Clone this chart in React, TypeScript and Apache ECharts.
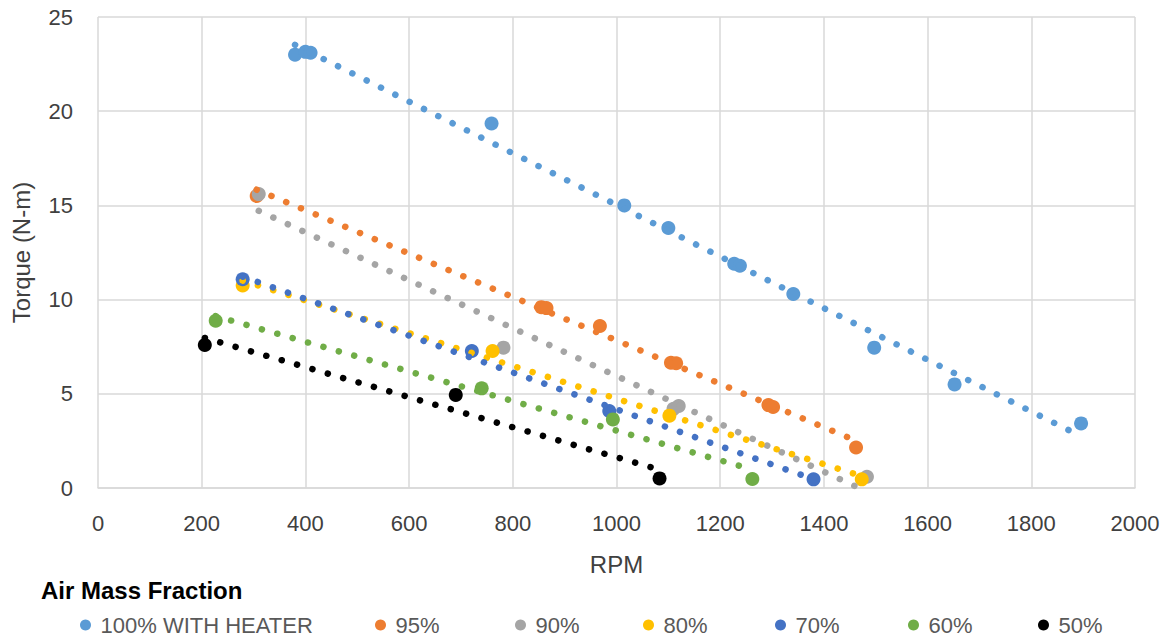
import React, { useEffect, useRef } from "react";
import * as echarts from "echarts";

const seriesNames = ["100% WITH HEATER", "95%", "90%", "80%", "70%", "60%", "50%"];
const seriesColors = ["#5B9BD5", "#ED7D31", "#A5A5A5", "#FFC000", "#4472C4", "#70AD47", "#000000"];

const rpm100 = [380, 400, 410, 759, 1015, 1100, 1227, 1238, 1341, 1497, 1652, 1896];
const tq100 = [23.0, 23.15, 23.1, 19.35, 15.0, 13.8, 11.9, 11.8, 10.3, 7.45, 5.5, 3.43];

const rpm95 = [306, 855, 865, 968, 1105, 1115, 1293, 1302, 1462];
const tq95 = [15.5, 9.6, 9.55, 8.6, 6.65, 6.62, 4.4, 4.3, 2.15];

const rpm90 = [310, 782, 1110, 1120, 1483];
const tq90 = [15.6, 7.45, 4.2, 4.35, 0.6];

const rpm80 = [279, 761, 1102, 1473];
const tq80 = [10.75, 7.27, 3.84, 0.46];

const rpm70 = [279, 721, 986, 1380];
const tq70 = [11.08, 7.27, 4.09, 0.46];

const rpm60 = [227, 740, 993, 1262];
const tq60 = [8.88, 5.29, 3.64, 0.48];

const rpm50 = [206, 690, 1083];
const tq50 = [7.59, 4.94, 0.51];

const xTitle = "RPM";
const yTitle = "Torque (N-m)";
const legendTitle = "Air Mass Fraction";

const allRpm = [rpm100, rpm95, rpm90, rpm80, rpm70, rpm60, rpm50];
const allTq = [tq100, tq95, tq90, tq80, tq70, tq60, tq50];

// layout only
const legendIconCenters = [85, 380, 520, 648, 780, 913, 1043];

const FONT = "'Liberation Sans', Arial, sans-serif";

function linearFit(xs: number[], ys: number[]): number[][] {
  const n = xs.length;
  const mx = xs.reduce((a, b) => a + b, 0) / n;
  const my = ys.reduce((a, b) => a + b, 0) / n;
  let sxx = 0;
  let sxy = 0;
  for (let i = 0; i < n; i++) {
    sxx += (xs[i] - mx) * (xs[i] - mx);
    sxy += (xs[i] - mx) * (ys[i] - my);
  }
  const b = sxy / sxx;
  const a = my - b * mx;
  const x0 = Math.min(...xs);
  const x1 = Math.max(...xs);
  return [
    [x0, a + b * x0],
    [x1, a + b * x1],
  ];
}

export default function App() {
  const ref = useRef<HTMLDivElement>(null);

  useEffect(() => {
    if (!ref.current) return;
    const chart = echarts.init(ref.current, undefined, { renderer: "svg" });

    const scatterSeries = seriesNames.map((name, i) => ({
      name,
      type: "scatter",
      symbol: "circle",
      symbolSize: 14,
      z: 2,
      itemStyle: { color: seriesColors[i], opacity: 1 },
      data: allRpm[i].map((x, j) => [x, allTq[i][j]]),
    }));

    const trendSeries = seriesNames.map((name, i) => ({
      name: name + " trend",
      type: "line",
      z: 3,
      symbol: "none",
      silent: true,
      lineStyle: {
        color: seriesColors[i],
        width: 6.5,
        type: [0.1, 15.9],
        cap: "round",
      },
      data: linearFit(allRpm[i], allTq[i]),
    }));

    const legends = seriesNames.map((name, i) => ({
      data: [name],
      left: legendIconCenters[i] - 10,
      top: 609,
      orient: "horizontal",
      icon: "circle",
      itemWidth: 20,
      itemHeight: 11,
      selectedMode: false,
      textStyle: { fontFamily: FONT, fontSize: 22, color: "#595959" },
    }));

    chart.setOption({
      animation: false,
      backgroundColor: "#ffffff",
      title: {
        text: legendTitle,
        left: 36,
        top: 573,
        textStyle: { fontFamily: FONT, fontSize: 24, fontWeight: "bold", color: "#000000" },
      },
      legend: legends,
      grid: { left: 98, right: 36, top: 17, bottom: 153, containLabel: false },
      xAxis: {
        type: "value",
        min: 0,
        max: 2000,
        interval: 200,
        name: xTitle,
        nameLocation: "middle",
        nameGap: 64,
        nameTextStyle: { fontFamily: FONT, fontSize: 24, color: "#404040" },
        axisLine: { show: true, lineStyle: { color: "#D9D9D9", width: 1.5 } },
        axisTick: { show: false },
        axisLabel: {
          fontFamily: FONT,
          fontSize: 22,
          color: "#404040",
          margin: 24,
          formatter: (v: number) => String(v),
        },
        splitLine: { show: true, lineStyle: { color: "#D9D9D9", width: 1.5 } },
      },
      yAxis: {
        type: "value",
        min: 0,
        max: 25,
        interval: 5,
        name: yTitle,
        nameLocation: "middle",
        nameGap: 65,
        nameTextStyle: { fontFamily: FONT, fontSize: 24, color: "#404040" },
        axisLine: { show: false },
        axisTick: { show: false },
        axisLabel: {
          fontFamily: FONT,
          fontSize: 22,
          color: "#404040",
          margin: 25,
          formatter: (v: number) => String(v),
        },
        splitLine: { show: true, lineStyle: { color: "#D9D9D9", width: 1.5 } },
      },
      series: [...scatterSeries, ...trendSeries],
    });

    return () => chart.dispose();
  }, []);

  return (
    <div
      ref={ref}
      style={{ position: "fixed", left: 0, top: 0, width: 1171, height: 641, background: "#fff" }}
    />
  );
}
